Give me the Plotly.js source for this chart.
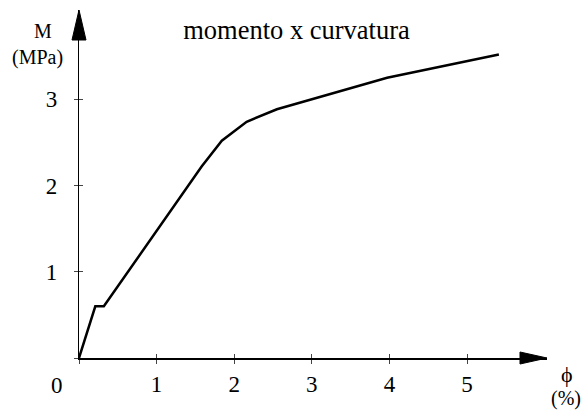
<!DOCTYPE html>
<html>
<head>
<meta charset="utf-8">
<script src="https://cdn.plot.ly/plotly-3.0.1.min.js"></script>
<style>html,body{margin:0;padding:0;background:#fff;}#chart{width:583px;height:410px;}</style>
</head>
<body>
<div id="chart"></div>
<script>
// Data (curvature in %, moment in MPa)
const curvature = [0, 0.21, 0.32, 1.58, 1.84, 2.16, 2.55, 3.97, 5.41];
const moment    = [0, 0.60, 0.60, 2.22, 2.52, 2.74, 2.885, 3.25, 3.52];
const xTickVals = [0, 1, 2, 3, 4, 5];
const xTickText = ['', '1', '2', '3', '4', '5'];
const yTickVals = [0, 1, 2, 3];
const yTickText = ['', '1', '2', '3'];
const titleText = 'momento x curvatura';
const yLabel = ['M', '(MPa)'];
const xLabel = ['\u03d5', '(%)'];
const originLabel = '0';

const xMax = 6.03, yMax = 4.036;
const font = 'Liberation Serif';
const plotW = 583 - 79 - 36, plotH = 410 - 10 - 52;

const trace = {
  x: curvature, y: moment, type: 'scatter', mode: 'lines',
  line: {color: '#000', width: 2.5}, cliponaxis: false, hoverinfo: 'skip'
};

// arrowheads at the ends of the axes, in paper coordinates (not clipped)
function arrowX() {
  const b = 1 - 27 / plotW, h = 6 / plotH;
  return `M${b},${h} L1,0 L${b},${-h} Z`;
}
function arrowY() {
  const b = 1 - 30 / plotH, w = 7 / plotW;
  return `M${-w},${b} L0,1 L${w},${b} Z`;
}

const ann = (text, x, y, xref, yref, xs, ys, size) => ({
  text, x, y, xref, yref, xshift: xs, yshift: ys, xanchor: 'center', yanchor: 'middle',
  showarrow: false, font: {family: font, size, color: '#000'}
});

const layout = {
  width: 583, height: 410,
  margin: {l: 79, r: 36, t: 10, b: 52},
  paper_bgcolor: '#fff', plot_bgcolor: '#fff',
  showlegend: false,
  font: {family: font, color: '#000', size: 22},
  title: {text: titleText, font: {family: font, size: 26.5, color: '#000'},
          x: 296.5/583, xanchor: 'center', xref: 'container',
          y: 1 - 30/410, yanchor: 'middle', yref: 'container'},
  xaxis: {range: [0, xMax], showgrid: false, zeroline: false,
          showline: true, linecolor: '#000', linewidth: 2,
          tickmode: 'array', tickvals: xTickVals, ticktext: xTickText,
          ticks: 'outside', ticklen: 4, tickcolor: '#444', tickwidth: 1,
          tickfont: {family: font, size: 23, color: '#000'}, ticklabelstandoff: 0,
          fixedrange: true},
  xaxis2: {range: [0, xMax], overlaying: 'x', anchor: 'y', side: 'bottom',
           showgrid: false, zeroline: false, showline: false,
           tickmode: 'array', tickvals: xTickVals, ticktext: xTickText,
           ticks: 'inside', ticklen: 4, tickcolor: '#444', tickwidth: 1,
           showticklabels: false},
  yaxis: {range: [0, yMax], showgrid: false, zeroline: false,
          showline: true, linecolor: '#000', linewidth: 1.2,
          tickmode: 'array', tickvals: yTickVals, ticktext: yTickText,
          ticks: 'outside', ticklen: 4, tickcolor: '#444', tickwidth: 1,
          tickfont: {family: font, size: 23, color: '#000'}, ticklabelstandoff: 12,
          fixedrange: true},
  yaxis2: {range: [0, yMax], overlaying: 'y', anchor: 'x', side: 'left',
           showgrid: false, zeroline: false, showline: false,
           tickmode: 'array', tickvals: yTickVals, ticktext: yTickText,
           ticks: 'inside', ticklen: 4, tickcolor: '#444', tickwidth: 1,
           showticklabels: false},
  shapes: [
    {type: 'path', xref: 'paper', yref: 'paper', path: arrowX(),
     fillcolor: '#000', line: {color: '#000', width: 1}},
    {type: 'path', xref: 'paper', yref: 'paper', path: arrowY(),
     fillcolor: '#000', line: {color: '#000', width: 1}}
  ],
  annotations: [
    ann(yLabel[0], 0, 1, 'paper', 'paper', -36, -21, 20),
    ann(yLabel[1], 0, 1, 'paper', 'paper', -42, -47, 20),
    ann(xLabel[0], 1, 0, 'paper', 'y', 20, -16, 22),
    ann(xLabel[1], 1, 0, 'paper', 'y', 19, -40, 20),
    ann(originLabel, 0, 0, 'paper', 'y', -22, -27, 23)
  ]
};

Plotly.newPlot('chart', [trace,
  {x: [], y: [], xaxis: 'x2', yaxis: 'y2', type: 'scatter', mode: 'lines', hoverinfo: 'skip'}],
  layout, {staticPlot: true, displayModeBar: false});
</script>
</body>
</html>
